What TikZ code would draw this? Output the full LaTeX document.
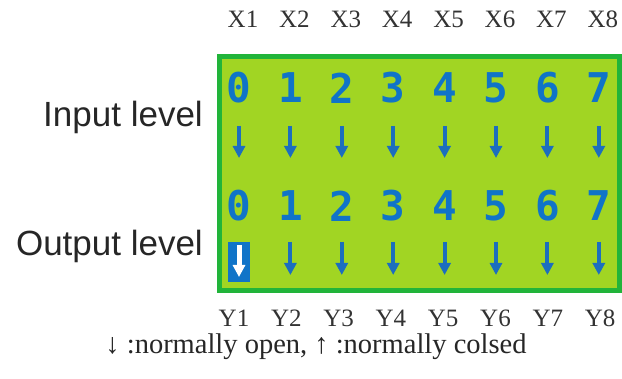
\documentclass[tikz,border=0pt]{standalone}
\usepackage{fontspec}
\setmainfont{Liberation Serif}
\newfontfamily\levelfont{Liberation Sans}
\newfontfamily\digitfont{DejaVu Sans Mono}
\usetikzlibrary{arrows.meta, math}

\definecolor{boardgreen}{RGB}{33,180,58}
\definecolor{boardfill}{RGB}{161,213,35}
\definecolor{digitblue}{RGB}{16,116,200}
\definecolor{arrowblue}{RGB}{28,110,190}

\begin{document}
\begin{tikzpicture}[
  x=1pt, y=-1pt,
  board/.style={draw=boardgreen, line width=5pt, fill=boardfill},
  digit/.style={text=digitblue, inner sep=0pt,
    font={\digitfont\bfseries\fontsize{41}{41}\selectfont}},
  levelname/.style={anchor=base east, inner sep=0pt, text=black!85,
    font={\levelfont\fontsize{35}{35}\selectfont}},
  pinname/.style={anchor=base, inner sep=0pt, text=black!80,
    font={\fontsize{25}{25}\selectfont}},
  legendtext/.style={anchor=base, inner sep=0pt, text=black!85,
    font={\fontsize{28.5}{28.5}\selectfont}},
  contact/.style={-{Triangle[width=12pt, length=12pt]}, line width=4pt, draw=arrowblue},
  selbox/.style={fill=digitblue, inner sep=0pt, minimum width=22pt, minimum height=40pt}
  ]
  \useasboundingbox (0,0) rectangle (622,379);

  % the green board
  \draw[board] (219.5,56.5) rectangle (619.5,290.5);

  \node[levelname] (inlevel) at (203,127) {Input level};
  \node[levelname] (outlevel) at (203,256) {Output level};

  % highlighted output 0
  \node[selbox] (sel) at (239,262) {};
  \coordinate (selt) at (239,245);
  \coordinate (selb) at (239,277);
  \draw[contact, draw=white, line width=5pt] (selt) -- (selb);

  % columns begin
  \tikzmath{%
    \xstep = 51.4;
    \xinit = 239;
    int \ci;
    int \dval;
    for \col in {1,2,3,4,5,6,7,8}{%
      \ci = \col;
      \dval = \ci - 1;
      \xpos = \xinit + \xstep * \dval;
      \xlab = \xpos + 4;
      \ylab = 234 + 52.3 * \dval;
      {
        \node[pinname] (x\ci) at (\xlab, 28) {X\ci};
        \node[pinname] (y\ci) at (\ylab, 327) {Y\ci};
        \node[digit] (in\ci) at (\xpos, 88) {\dval};
        \node[digit] (out\ci) at (\xpos, 206) {\dval};
        \coordinate (ina\ci) at (\xpos, 126);
        \coordinate (inb\ci) at (\xpos, 158);
        \draw[contact] (ina\ci) -- (inb\ci);
      };
      if \ci > 1 then {%
        {
          \coordinate (outa\ci) at (\xpos, 242);
          \coordinate (outb\ci) at (\xpos, 275);
          \draw[contact] (outa\ci) -- (outb\ci);
        };
      };
    };
  }
  % columns end

  \node[legendtext] (legend) at (316,354) {↓ :normally open, ↑ :normally colsed};

\end{tikzpicture}
\end{document}
